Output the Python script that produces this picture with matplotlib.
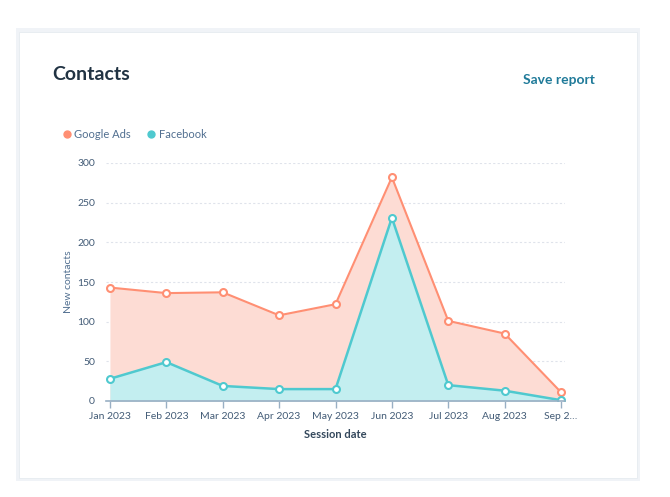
import matplotlib
matplotlib.use("Agg")
import matplotlib.pyplot as plt
from matplotlib.patches import Rectangle
from matplotlib.lines import Line2D

months = ["Jan 2023", "Feb 2023", "Mar 2023", "Apr 2023", "May 2023",
          "Jun 2023", "Jul 2023", "Aug 2023", "Sep 2\u2026"]
google_ads = [143, 136, 137, 108, 122, 282, 101, 85, 11]
facebook = [28, 49, 19, 15, 15, 231, 20, 13, 1]
yticks = [0, 50, 100, 150, 200, 250, 300]

plt.rcParams['font.family'] = ['Lato', 'DejaVu Sans']

fig = plt.figure(figsize=(6.7, 4.97), dpi=100)
fig.patch.set_facecolor("white")

# card with soft border
fig.add_artist(Rectangle((16/670, 1-481/497), 624/670, 453/497, transform=fig.transFigure,
                         facecolor="#f0f3f7", edgecolor="none", zorder=0))
fig.add_artist(Rectangle((19/670, 1-478/497), 618/670, 446/497, transform=fig.transFigure,
                         facecolor="white", edgecolor="#e6ebf0", linewidth=0.6, zorder=0))

ax = fig.add_axes([106/670, 1-401/497, 459/670, 238/497])
x = list(range(len(months)))

g_col, g_fill = "#ff8f73", "#fddcd4"
f_col, f_fill = "#4fc9cf", "#c3eef0"

ax.fill_between(x, 0, google_ads, color=g_fill, linewidth=0, zorder=1)
ax.fill_between(x, 0, facebook, color=f_fill, linewidth=0, zorder=2)
ax.plot(x, google_ads, color=g_col, lw=1.5, marker="o", ms=5, mfc="white", mec=g_col, mew=1.5, zorder=4)
ax.plot(x, facebook, color=f_col, lw=1.8, marker="o", ms=5, mfc="white", mec=f_col, mew=1.5, zorder=5)

ax.set_xlim(-0.07, 8.07)
ax.set_ylim(0, 300)
ax.set_yticks(yticks)
ax.set_xticks(x)
ax.set_xticklabels(months)
ax.grid(axis="y", color="#dfe3eb", linestyle=(0, (2, 2)), linewidth=0.8, zorder=0)
ax.set_axisbelow(True)
for s in ["top", "right", "left"]:
    ax.spines[s].set_visible(False)
ax.spines["bottom"].set_color("#99afc4")
ax.spines["bottom"].set_linewidth(1.2)
ax.spines["bottom"].set_zorder(6)
ax.tick_params(axis="x", colors="#99afc4", length=5, width=1, labelcolor="#425b76", labelsize=7.5, pad=3)
ax.tick_params(axis="y", length=0, labelcolor="#425b76", labelsize=7.5, pad=8)

ax.set_xlabel("Session date", fontsize=8, fontweight="bold", color="#33475b", labelpad=6)
ax.set_ylabel("New contacts", fontsize=7.5, color="#516f90", labelpad=3)

fig.text(52/670, 1-75/497, "Contacts", fontsize=14, fontweight="bold", color="#213343", va="center")
fig.text(595/670, 1-80/497, "Save report", fontsize=10, fontweight="bold", color="#1f7a99", va="center", ha="right")

handles = [Line2D([], [], ls="none", marker="o", ms=5, color=g_col),
           Line2D([], [], ls="none", marker="o", ms=5, color=f_col)]
fig.legend(handles, ["Google Ads", "Facebook"], loc="center left", bbox_to_anchor=(50/670, 1-134/497),
           ncol=2, frameon=False, fontsize=8, handletextpad=0.1, columnspacing=1.2,
           labelcolor="#516f90", handlelength=1.2)

fig.savefig("out.png", dpi=100)
